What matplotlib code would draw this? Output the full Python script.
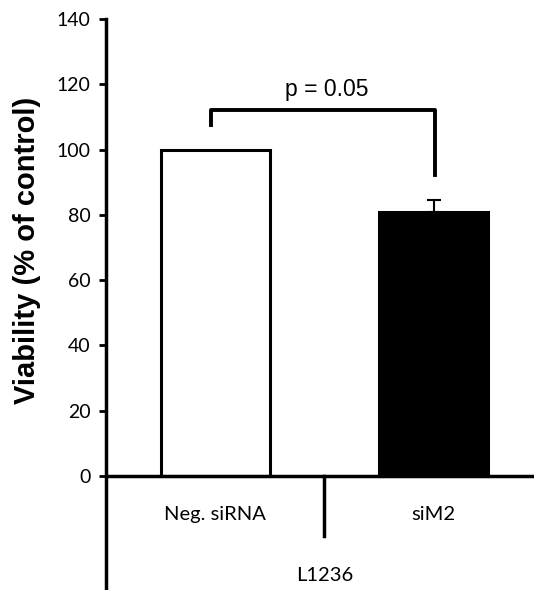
import matplotlib
matplotlib.use('Agg')
import matplotlib.pyplot as plt

# data
groups = ['Neg. siRNA', 'siM2']
viability = [100, 81]
err_up = [0, 3.5]
bar_colors = ['white', 'black']
cell_line = 'L1236'
p_text = 'p = 0.05'
yticks = [0, 20, 40, 60, 80, 100, 120, 140]

fig = plt.figure(figsize=(5.34, 5.90), dpi=100)
ax = fig.add_axes([106/534, 0, 1 - 106/534, 571/590])

x = [0, 1]
ax.bar(x, viability, width=0.5, color=bar_colors, edgecolor='black', linewidth=2.2, zorder=2)
ax.errorbar(x[1], viability[1], yerr=[[0], [err_up[1]]], fmt='none', ecolor='black',
            elinewidth=1.5, capsize=5, capthick=1.5, zorder=3)

ax.set_xlim(-0.5, 1.46)
ax.set_ylim(-35, 140)
ax.set_yticks(yticks)
ax.set_yticklabels([str(t) for t in yticks], fontsize=14, family='Lato')
ax.tick_params(axis='y', direction='out', length=5, width=2, pad=6)
ax.set_xticks([])
for s in ['top', 'right', 'bottom']:
    ax.spines[s].set_visible(False)
ax.spines['left'].set_linewidth(2.5)

# baseline and group separator
ax.axhline(0, color='black', linewidth=2.5, zorder=4)
ax.plot([0.5, 0.5], [0, -18.5], color='black', linewidth=2.5, clip_on=False)

for xi, g in zip(x, groups):
    ax.text(xi, -12, g, ha='center', va='center', fontsize=14.5, family='Lato')
ax.text(0.5, -30.5, cell_line, ha='center', va='center', fontsize=14.5, family='Lato')

# significance bracket
ax.plot([-0.02, -0.02, 1.007, 1.007], [107.5, 112.1, 112.1, 92.2], color='black', linewidth=2.8)
ax.text(0.51, 118.5, p_text, ha='center', va='center', fontsize=16.5, family='Liberation Sans')

ax.set_ylabel('Viability (% of control)', fontsize=21, fontweight='bold',
              family='Liberation Sans')
ax.yaxis.set_label_coords(-0.152, 0.595)

fig.savefig('out.png', dpi=100)
